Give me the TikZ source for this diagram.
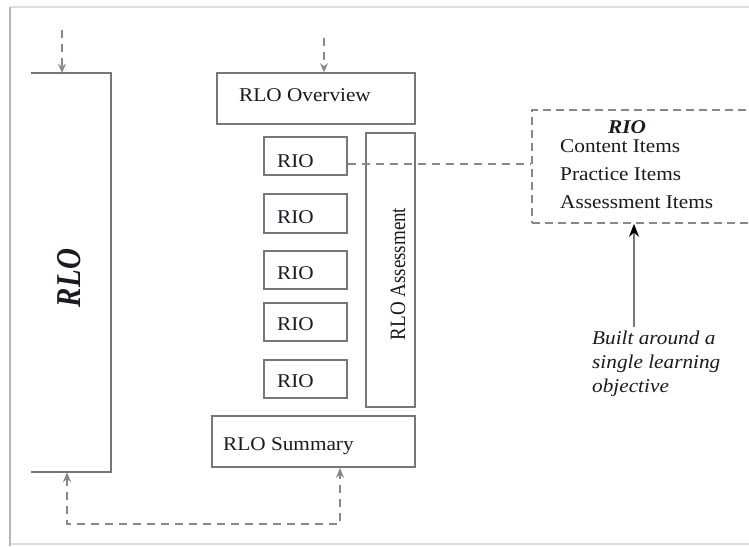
\documentclass[tikz,border=0pt]{standalone}
\usepackage{fontspec}
\setmainfont[FakeStretch=1.09]{Liberation Serif}
\newfontfamily\upfont{Liberation Serif}
\usetikzlibrary{arrows.meta}
\definecolor{boxgray}{HTML}{777777}
\definecolor{dashgray}{HTML}{888888}
\definecolor{framedark}{HTML}{B4B4B4}
\definecolor{framelight}{HTML}{DCDCDC}
\definecolor{inkcol}{HTML}{1A1A24}
\begin{document}
\begin{tikzpicture}[x=1pt,y=-1pt,
  box/.style={draw=boxgray, line width=1.6pt, inner sep=0pt, rectangle},
  label/.style={inner sep=0pt, anchor=base west, text=inkcol,
                font=\fontsize{19.5}{23}\selectfont},
  flow/.style={draw=dashgray, line width=1.6pt, dash pattern=on 8pt off 6pt},
  intip/.style={-{Stealth[length=9pt,width=8pt]}},
  opentips/.style={{Stealth[open,length=10pt,width=8pt]}-{Stealth[open,length=10pt,width=8pt]}}
]
% page and frame
\fill[white] (0,0) rectangle (749,546);
\useasboundingbox (0,0) rectangle (749,546);
\draw[framelight, line width=1.5pt] (10,7) -- (749,7);
\draw[framelight, line width=2.5pt] (10,544) -- (749,544);
\draw[framedark, line width=1.8pt] (10,7) -- (10,546);

% RLO block (open on the left)
\node (rlo) [minimum width=80pt, minimum height=399pt, inner sep=0pt] at (71,272.5) {};
\draw[boxgray, line width=1.8pt] (rlo.north west) -- (rlo.north east)
      -- (rlo.south east) -- (rlo.south west);
\node (rlot) [inner sep=0pt, anchor=base, rotate=90, text=inkcol,
      font=\upfont\fontsize{29}{33}\selectfont\bfseries\itshape] at (80,278)
      {\scalebox{1}[1.2]{RLO}};

% overview, objects, assessment and summary
\node (ov)   [box, minimum width=198pt, minimum height=51pt] at (316,98.5) {};
\node (rio1) [box, minimum width=83pt, minimum height=38pt] at (305.5,156) {};
\node (rio2) [box, minimum width=83pt, minimum height=39pt] at (305.5,213.5) {};
\node (rio3) [box, minimum width=83pt, minimum height=38pt] at (305.5,270) {};
\node (rio4) [box, minimum width=83pt, minimum height=38pt] at (305.5,322) {};
\node (rio5) [box, minimum width=83pt, minimum height=38pt] at (305.5,379) {};
\node (ras)  [box, minimum width=49pt, minimum height=274pt] at (390.5,270) {};
\node (rsum) [box, minimum width=203pt, minimum height=51pt] at (313.5,441.5) {};

\node (ovt)   [label] at (239,101) {RLO Overview};
\node (riot1) [label] at (277,167) {RIO};
\node (riot2) [label] at (277,223) {RIO};
\node (riot3) [label] at (277,279) {RIO};
\node (riot4) [label] at (277,330) {RIO};
\node (riot5) [label] at (277,387) {RIO};
\node (sumt)  [label] at (223,450) {RLO Summary};
\node (rast)  [inner sep=0pt, anchor=base, rotate=90, text=inkcol,
      font=\upfont\fontsize{19}{23}\selectfont] at (405,274)
      {\scalebox{1}[1.15]{RLO Assessment}};

% detail of a single RIO
\node (rbox) [draw=dashgray, line width=1.6pt, dash pattern=on 8pt off 5pt,
      inner sep=0pt, minimum width=226pt, minimum height=113pt] at (645,166.5) {};
\node (rhead) [label, anchor=base, font=\fontsize{19.5}{23}\selectfont\bfseries\itshape]
      at (627,133) {RIO};
\node (ci) [label] at (560,152) {Content Items};
\node (pi) [label] at (560,180) {Practice Items};
\node (ai) [label] at (560,208) {Assessment Items};

\node (d1) [label, font=\fontsize{19.5}{23}\selectfont\itshape] at (592,344) {Built around a};
\node (d2) [label, font=\fontsize{19.5}{23}\selectfont\itshape] at (592,368) {single learning};
\node (d3) [label, font=\fontsize{19.5}{23}\selectfont\itshape] at (592,392) {objective};

% connectors
\coordinate (in1) at (62,30);
\coordinate (in2) at (324,38);
\draw[flow, intip] (in1) -- (in1 |- rlo.north);
\draw[flow, intip] (in2) -- (in2 |- ov.north);

\draw[flow] ([yshift=-8pt]rio1.east) -- ([yshift=-8pt]rio1.east -| rbox.west);

\coordinate (tail) at (634,327);
\draw[boxgray, line width=2.6pt, -{Stealth[length=13pt,width=10pt,color=black]}]
      (tail) -- (tail |- rbox.south);

\coordinate (bl) at (67,524);
\coordinate (br) at (340,524);
\draw[flow, opentips] (bl |- rlo.south) -- (bl) -- (br) -- (br |- rsum.south);
\end{tikzpicture}
\end{document}
